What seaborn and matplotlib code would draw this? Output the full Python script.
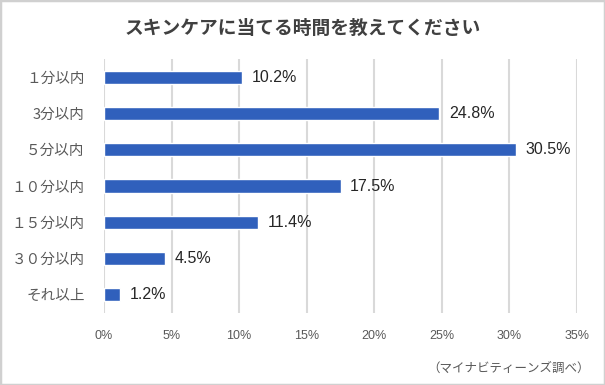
import matplotlib
matplotlib.use("Agg")
import matplotlib.pyplot as plt
import seaborn as sns
import pandas as pd
from matplotlib.patches import Rectangle

# data
categories = ["１分以内", "3分以内", "５分以内", "１０分以内", "１５分以内", "３０分以内", "それ以上"]
values = [10.2, 24.8, 30.5, 17.5, 11.4, 4.5, 1.2]
xticks = [0, 5, 10, 15, 20, 25, 30, 35]

title = "スキンケアに当てる時間を教えてください"
source = "（マイナビティーンズ調べ）"

df = pd.DataFrame({"cat": categories, "val": values})

sns.set_style("white")
plt.rcParams['font.family'] = ['Noto Sans CJK JP', 'DejaVu Sans']

fig = plt.figure(figsize=(6.05, 3.85), dpi=100)
ax = fig.add_axes([104 / 605, 1 - 313 / 385, (577 - 104) / 605, (313 - 59) / 385])

sns.barplot(data=df, x="val", y="cat", color="#3060bc", saturation=1,
            width=0.36, ax=ax, zorder=3)

ax.set_xlim(0, 35)
ax.set_ylim(6.5, -0.5)
ax.set_xticks(xticks)
ax.set_xticklabels([f"{t}%" for t in xticks], family=['Liberation Sans'],
                   fontsize=9, color="#595959")
ax.set_yticks(range(len(categories)))
ax.set_yticklabels(categories, fontsize=10.5, color="#595959")
ax.tick_params(axis="x", length=0, pad=12)
ax.tick_params(axis="y", length=0, pad=14)
ax.set_xlabel("")
ax.set_ylabel("")
for s in ax.spines.values():
    s.set_visible(False)
ax.grid(axis="x", color="#d9d9d9", linewidth=1.5, zorder=0)
ax.set_axisbelow(True)

# value labels
for i, v in enumerate(values):
    ax.annotate(f"{v}%", (v, i), xytext=(7, 0), textcoords="offset points",
                va="center", ha="left", fontsize=11.5, color="#262626",
                family=['Liberation Sans'])

fig.text(0.5, 1 - 28 / 385, title, ha="center", va="center", fontsize=13.5,
         fontweight="bold", color="#404040")
fig.text(590 / 605, 1 - 368 / 385, source, ha="right", va="center",
         fontsize=9, color="#595959")

# outer gray border
fig.patches.append(Rectangle((0, 0), 1, 1, transform=fig.transFigure,
                             fill=False, edgecolor="#d0d0d0", linewidth=2.5))

fig.savefig("out.png", dpi=100)
